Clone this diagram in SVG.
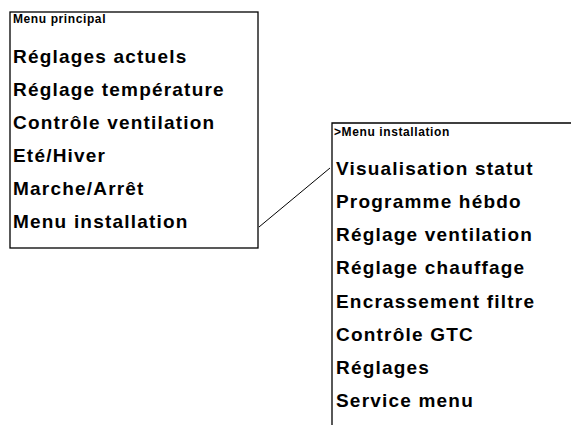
<svg xmlns="http://www.w3.org/2000/svg" width="571" height="425" viewBox="0 0 571 425">
<style>
.frame{fill:none;stroke:#000;stroke-width:1.3}
.conn{fill:none;stroke:#000;stroke-width:1}
.title{font-family:"Liberation Sans",Arial,sans-serif;font-weight:bold;font-size:12px;letter-spacing:0.6px;fill:#000}
.item{font-family:"Liberation Sans",Arial,sans-serif;font-weight:bold;font-size:19px;letter-spacing:1.2px;fill:#000}
</style>
<rect width="571" height="425" fill="#fff"/>
<g id="menu-principal">
<rect class="frame" x="10" y="12" width="248" height="236"/>
<text class="title" x="13" y="23">Menu principal</text>
<text class="item" x="13" y="63">Réglages actuels</text>
<text class="item" x="13" y="96">Réglage température</text>
<text class="item" x="13" y="129">Contrôle ventilation</text>
<text class="item" x="13" y="162">Eté/Hiver</text>
<text class="item" x="13" y="195">Marche/Arrêt</text>
<text class="item" x="13" y="228">Menu installation</text>
</g>
<g id="menu-installation">
<path class="frame" d="M572,123 H332 V426"/>
<text class="title" x="334" y="136">&gt;Menu installation</text>
<text class="item" x="336" y="175">Visualisation statut</text>
<text class="item" x="336" y="208.1">Programme hébdo</text>
<text class="item" x="336" y="241.3">Réglage ventilation</text>
<text class="item" x="336" y="274.4">Réglage chauffage</text>
<text class="item" x="336" y="307.6">Encrassement filtre</text>
<text class="item" x="336" y="340.7">Contrôle GTC</text>
<text class="item" x="336" y="373.9">Réglages</text>
<text class="item" x="336" y="407">Service menu</text>
</g>
<g id="connectors">
<line class="conn" x1="259" y1="227" x2="330" y2="168"/>
</g>
</svg>
